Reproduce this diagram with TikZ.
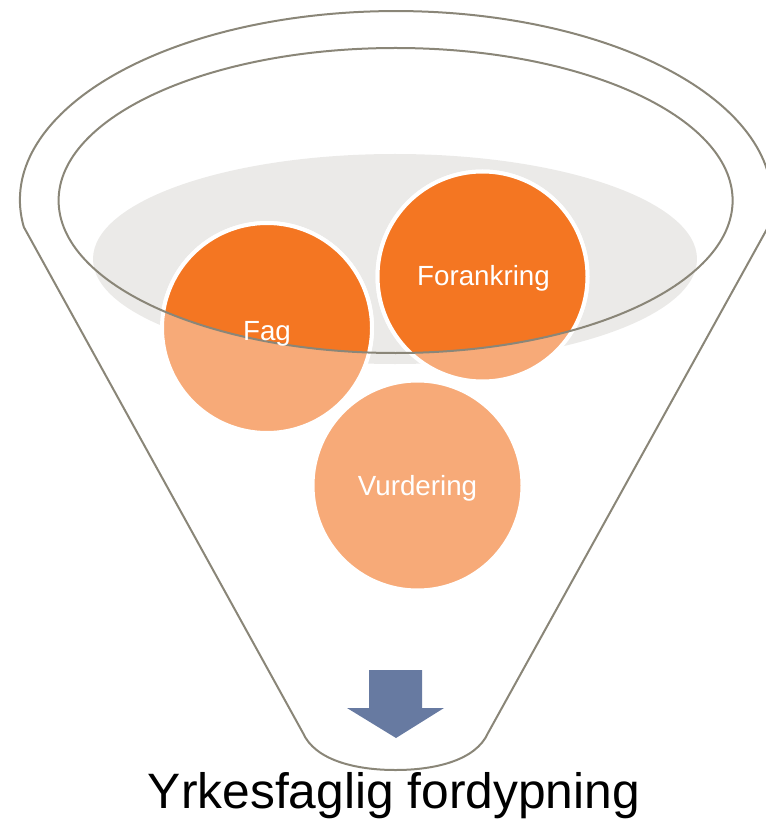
\documentclass[tikz,border=0pt]{standalone}
\usepackage{fontspec}
\setmainfont{Liberation Sans}
\definecolor{funnelline}{RGB}{138,134,120}
\definecolor{darkorange}{RGB}{244,118,34}
\definecolor{lightorange}{RGB}{247,170,120}
\definecolor{bowlgray}{RGB}{235,234,232}
\definecolor{arrowblue}{RGB}{103,122,161}
\tikzset{
  funnel/.style={draw=funnelline, line width=1.5pt},
  ball/.style={circle, inner sep=0pt, minimum size=157.5pt, fill=lightorange, draw=white, line width=3pt},
  darkball/.style={fill=darkorange, draw=white, line width=3pt},
  balllabel/.style={text=white, font=\fontsize{20.8pt}{24pt}\selectfont, anchor=base, inner sep=0pt},
  caption/.style={text=black, font=\fontsize{37.3pt}{44pt}\selectfont, anchor=base, inner sep=0pt}
}
\begin{document}
\begin{tikzpicture}[x=0.75pt, y=-0.75pt]
\useasboundingbox (0,0) rectangle (765,823);
% bowl surface
\fill[bowlgray] (395,259) ellipse [x radius=302, y radius=105];
% balls
\node[ball] (fag) at (267,328) {};
\node[ball] (forankring) at (482.5,276.5) {};
\node[ball] (vurdering) at (417.5,485.5) {};
\begin{scope}
  \clip (395.6,200.5) ellipse [x radius=337, y radius=152.5];
  \path[darkball] (fag.center) circle [radius=105];
  \path[darkball] (forankring.center) circle [radius=105];
\end{scope}
% funnel outline
\draw[funnel] (23.8,227) arc [start angle=171.8, end angle=368.2, x radius=376, y radius=189]
  -- (488,733) .. controls (476,760) and (436,770) .. (395.5,770)
  .. controls (355,770) and (315,760) .. (303,733) -- cycle;
\draw[funnel] (395.6,200.5) ellipse [x radius=337, y radius=152.5];
% labels
\node[balllabel] (fagtext) at (267,340) {Fag};
\node[balllabel] (forankringtext) at (483.5,286) {Forankring};
\node[balllabel] (vurderingtext) at (417.5,495) {Vurdering};
% arrow
\fill[arrowblue] (369,670) -- (422,670) -- (422,708) -- (444,708) -- (396,738) -- (347,708) -- (369,708) -- cycle;
\node[caption] (caption) at (394,808) {Yrkesfaglig fordypning};
\end{tikzpicture}
\end{document}
